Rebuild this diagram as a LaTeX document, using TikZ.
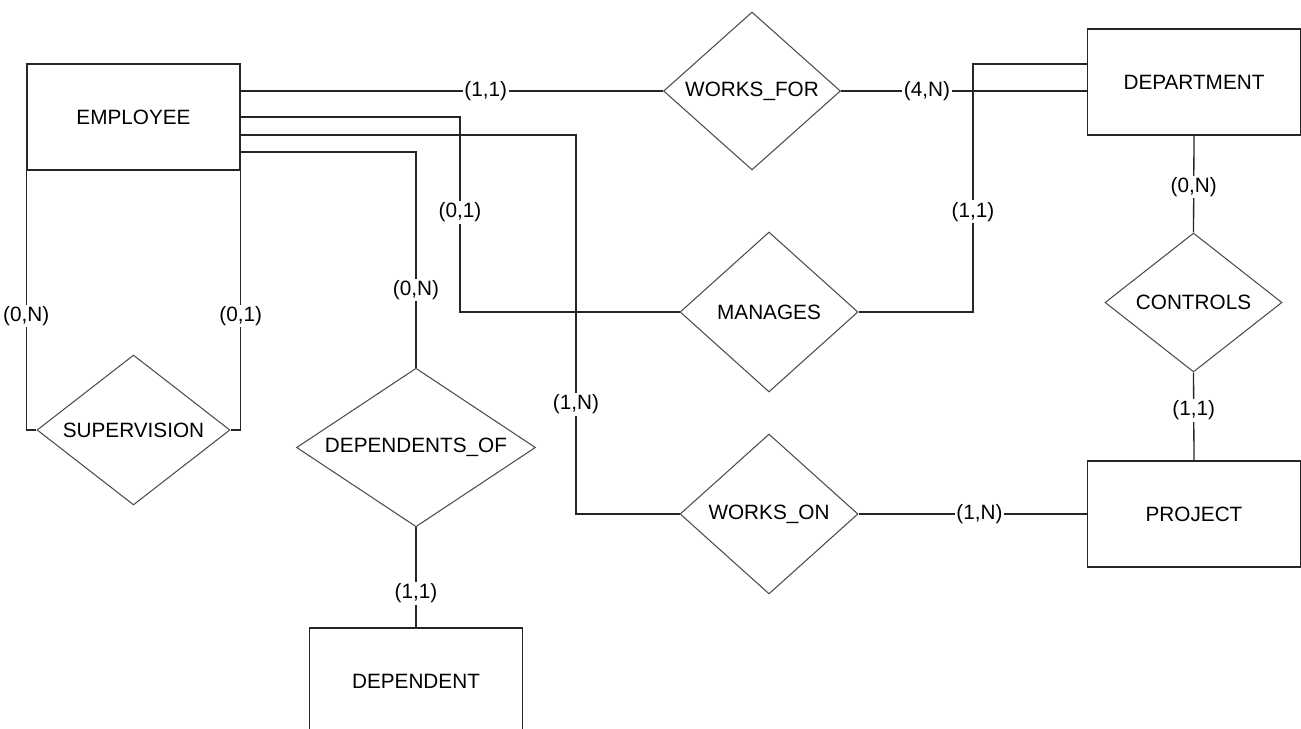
\documentclass[tikz,border=0pt]{standalone}
\usepackage{fontspec}
\setmainfont{Liberation Sans}
\usetikzlibrary{shapes.geometric, positioning, calc}

\begin{document}
\begin{tikzpicture}[
  x=0.02cm, y=-0.02cm,
  entity/.style={
    rectangle, draw=black!85, line width=0.9pt,
    minimum width=4.26cm, minimum height=2.12cm, inner sep=0pt
  },
  relation/.style={
    diamond, aspect=1.3, draw=black!70, line width=0.6pt, inner sep=0pt,
    minimum width=3.56cm, minimum height=3.2cm
  },
  link/.style={draw=black!85, line width=0.75pt},
  card/.style={fill=white, inner sep=1pt},
  font=\fontsize{11.8}{14}\selectfont
]
\useasboundingbox (0,0) rectangle (1301,729);

% ============================================================
% Entities
\node[entity] (emp)  at (133.5, 117) {EMPLOYEE};
\node[entity] (dept) at (1194, 82)   {DEPARTMENT};
\node[entity] (proj) at (1194, 514)  {PROJECT};
\node[entity] (dep)  at (416, 681)   {DEPENDENT};

% Relationships
\node[relation, minimum width=3.54cm, minimum height=3.16cm] (wf) at (752, 91) {WORKS\_FOR};
\node[relation] (man) at (769, 312) {MANAGES};
\node[relation] (won) at (769, 514) {WORKS\_ON};
\node[relation, minimum width=3.54cm, minimum height=2.78cm] (ctrl) at (1193.5, 302.5) {CONTROLS};
\node[relation, minimum width=3.86cm, minimum height=3.0cm] (sup) at (133.5, 430) {SUPERVISION};
\node[relation, minimum width=4.78cm, minimum height=2.98cm] (dof) at (416, 447.5) {DEPENDENTS\_OF};

% Bend points of the routed connectors
\coordinate (kMan)  at (460, 117);
\coordinate (kWon)  at (576, 135);
\coordinate (kDof)  at (416, 152);
\coordinate (kDept) at (973, 64);

% ============================================================
% Connectors with cardinalities
\draw[link] (emp.east |- wf.west) -- node[card, pos=0.58] {(1,1)} (wf.west);
\draw[link] (wf.east) -- node[card, pos=0.35] {(4,N)} (dept.west |- wf.east);

\draw[link] (emp.east |- kMan) -- (kMan) |- node[card, pos=0.244] {(0,1)} (man.west);
\draw[link] (emp.east |- kWon) -- (kWon) |- node[card, pos=0.355] {(1,N)} (won.west);
\draw[link] (emp.east |- kDof) -- (kDof) -- node[card, pos=0.64] {(0,N)} (dof.north);
\draw[link] (dept.west |- kDept) -- (kDept) |- node[card, pos=0.298] {(1,1)} (man.east);

\draw[link] (dept.south) -- node[card, pos=0.53] {(0,N)} (ctrl.north);
\draw[link] (ctrl.south) -- node[card, pos=0.43] {(1,1)} (proj.north);
\draw[link] (won.east) -- node[card, pos=0.53] {(1,N)} (proj.west);

\draw[link] (emp.south west) |- node[card, pos=0.28] {(0,N)} (sup.west);
\draw[link] (emp.south east) |- node[card, pos=0.28] {(0,1)} (sup.east);

\draw[link] (dof.south) -- node[card, pos=0.66] {(1,1)} (dep.north);

\end{tikzpicture}
\end{document}
